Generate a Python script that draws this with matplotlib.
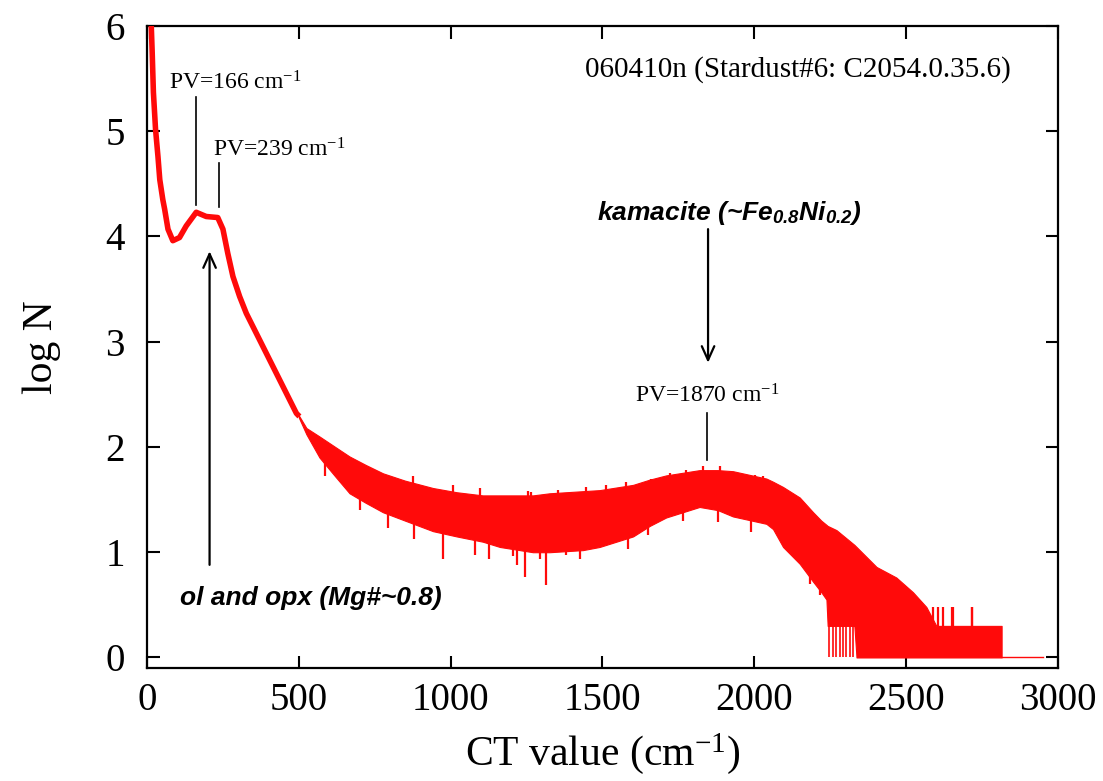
import matplotlib
matplotlib.use("Agg")
import matplotlib.pyplot as plt
import numpy as np

# ---------------- data ----------------
# smooth, low-noise part of the histogram (CT value vs log N)
core_ct = [12, 14, 17, 21, 28, 36, 42, 52, 58, 69, 85, 107, 129, 162, 195, 233, 250,
           266, 283, 305, 327, 360, 393, 426, 459, 492, 502]
core_logN = [6.2, 6.0, 5.75, 5.37, 5.02, 4.76, 4.54, 4.35, 4.26, 4.07, 3.96, 3.99, 4.10,
             4.23, 4.19, 4.18, 4.07, 3.84, 3.62, 3.43, 3.27, 3.08, 2.89, 2.70, 2.51, 2.32, 2.29]

# noisy part: upper and lower envelope of the noise band
band_ct = [500, 525, 568, 620, 667, 720, 777, 850, 942, 1020, 1106, 1162, 1271, 1326,
           1436, 1491, 1601, 1656, 1710, 1820, 1880, 1930, 2040, 2062, 2095, 2150, 2194,
           2221, 2238, 2242, 2271, 2330, 2337, 2403, 2468, 2523, 2567, 2600, 2815]
band_upper = [2.30, 2.18, 2.10, 2.00, 1.91, 1.83, 1.75, 1.68, 1.61, 1.57, 1.54, 1.54, 1.54,
              1.56, 1.58, 1.59, 1.64, 1.69, 1.73, 1.78, 1.78, 1.77, 1.70, 1.67, 1.62, 1.52,
              1.38, 1.30, 1.26, 1.25, 1.21, 1.07, 1.05, 0.86, 0.76, 0.62, 0.48, 0.30, 0.30]
band_lower = [2.28, 2.12, 1.90, 1.72, 1.56, 1.47, 1.38, 1.30, 1.20, 1.15, 1.10, 1.05, 1.00,
              1.00, 1.02, 1.05, 1.15, 1.25, 1.33, 1.43, 1.40, 1.34, 1.27, 1.22, 1.05, 0.89,
              0.72, 0.62, 0.55, 0.30, 0.30, 0.30, 0.0, 0.0, 0.0, 0.0, 0.0, 0.0, 0.0]

# isolated downward spikes (CT, log N)
down_ct = [585, 700, 793, 881, 975, 1079, 1128, 1205, 1220, 1244, 1293, 1315, 1381, 1425,
           1524, 1584, 1650, 1765, 1880, 1991, 2123, 2183, 2216]
down_logN = [1.72, 1.40, 1.23, 1.13, 0.94, 0.97, 0.94, 0.96, 0.88, 0.76, 0.94, 0.69, 0.97,
             0.94, 1.08, 1.03, 1.16, 1.30, 1.29, 1.19, 1.00, 0.70, 0.59]
# isolated upward spikes
up_ct = [875, 1008, 1096, 1254, 1266, 1353, 1447, 1513, 1579, 1661, 1722, 1776, 1830, 1886,
         2002, 2029, 2589, 2605, 2621, 2651, 2654, 2716, 2719]
up_logN = [1.72, 1.64, 1.61, 1.58, 1.57, 1.59, 1.62, 1.64, 1.67, 1.70, 1.75, 1.78, 1.82,
           1.82, 1.73, 1.72, 0.48, 0.48, 0.48, 0.48, 0.48, 0.48, 0.48]
# bins that drop to log N = 0 before the band reaches zero
zero_ct = [2246, 2260, 2271, 2282, 2293, 2304, 2315, 2326]

# empty tail (log N = 0)
tail_ct = [2815, 2950]
tail_logN = [0.0, 0.0]

# peak values and annotations
pv_ct = [162, 237, 1845]
pv_labels = ["166", "239", "1870"]

# ---------------- style ----------------
plt.rcParams["font.family"] = ["Liberation Serif", "DejaVu Serif"]
plt.rcParams["mathtext.fontset"] = "custom"
plt.rcParams["mathtext.rm"] = "Liberation Serif"
plt.rcParams["mathtext.it"] = "Liberation Serif:italic"
plt.rcParams["mathtext.bf"] = "Liberation Sans:italic:bold"
plt.rcParams["mathtext.default"] = "rm"

RED = "#ff0a0a"

fig = plt.figure(figsize=(11.03, 7.81), dpi=100)
ax = fig.add_axes([0.1333, 0.1447, 0.8257, 0.822])

ax.plot(core_ct, core_logN, color=RED, lw=4.0, solid_capstyle="butt", zorder=3)
ax.fill_between(band_ct, band_lower, band_upper, color=RED, lw=0.8, edgecolor=RED, zorder=3)
ax.vlines(down_ct, down_logN, np.interp(down_ct, band_ct, band_lower) + 0.02,
          color=RED, lw=1.6, zorder=3)
ax.vlines(up_ct, np.interp(up_ct, band_ct, band_upper) - 0.02, up_logN,
          color=RED, lw=1.6, zorder=3)
ax.vlines(zero_ct, 0, 0.3, color=RED, lw=1.2, zorder=3)
ax.plot(tail_ct, tail_logN, color=RED, lw=1.0, zorder=3)

ax.set_xlim(0, 3000)
ax.set_ylim(-0.1, 6)
ax.set_xticks([0, 500, 1000, 1500, 2000, 2500, 3000])
ax.set_yticks([0, 1, 2, 3, 4, 5, 6])
ax.tick_params(direction="in", length=9, width=1.5, top=True, right=True,
               labelsize=28, pad=10)
ax.tick_params(axis="y", pad=16)
for s in ax.spines.values():
    s.set_linewidth(1.6)

ax.set_xlabel(r"CT value (cm$^{-1}$)", fontsize=30, labelpad=9)
ax.set_ylabel("log N", fontsize=30, labelpad=32)

# sample label
ax.text(2143, 5.52, "060410n (Stardust#6: C2054.0.35.6)", fontsize=21,
        ha="center", va="baseline")

# peak-value markers
ax.plot([pv_ct[0], pv_ct[0]], [4.30, 5.33], color="black", lw=1.2)
ax.plot([pv_ct[1], pv_ct[1]], [4.28, 4.70], color="black", lw=1.2)
ax.plot([pv_ct[2], pv_ct[2]], [1.88, 2.32], color="black", lw=1.2)
ax.text(71, 5.40, r"PV=%s cm$^{-1}$" % pv_labels[0], fontsize=17, ha="left", va="baseline")
ax.text(216, 4.76, r"PV=%s cm$^{-1}$" % pv_labels[1], fontsize=17, ha="left", va="baseline")
ax.text(pv_ct[2], 2.42, r"PV=%s cm$^{-1}$" % pv_labels[2], fontsize=17, ha="center",
        va="baseline")

# mineral arrows
arrow_kw = dict(arrowstyle="->,head_length=1.0,head_width=0.45", color="black", lw=1.6,
                shrinkA=0, shrinkB=0)
ax.annotate("", xy=(206, 3.86), xytext=(206, 0.88), arrowprops=arrow_kw)
ax.annotate("", xy=(1848, 2.80), xytext=(1848, 4.07), arrowprops=arrow_kw)

ax.text(107, 0.50, "ol and opx (Mg#~0.8)", fontsize=19, fontstyle="italic",
        fontweight="bold", family="Liberation Sans", ha="left", va="baseline")
ax.text(1481, 4.16, r"kamacite (~Fe$_{\mathbf{0.8}}$Ni$_{\mathbf{0.2}}$)", fontsize=19,
        fontstyle="italic", fontweight="bold", family="Liberation Sans",
        ha="left", va="baseline")

fig.savefig("out.png", dpi=100)
